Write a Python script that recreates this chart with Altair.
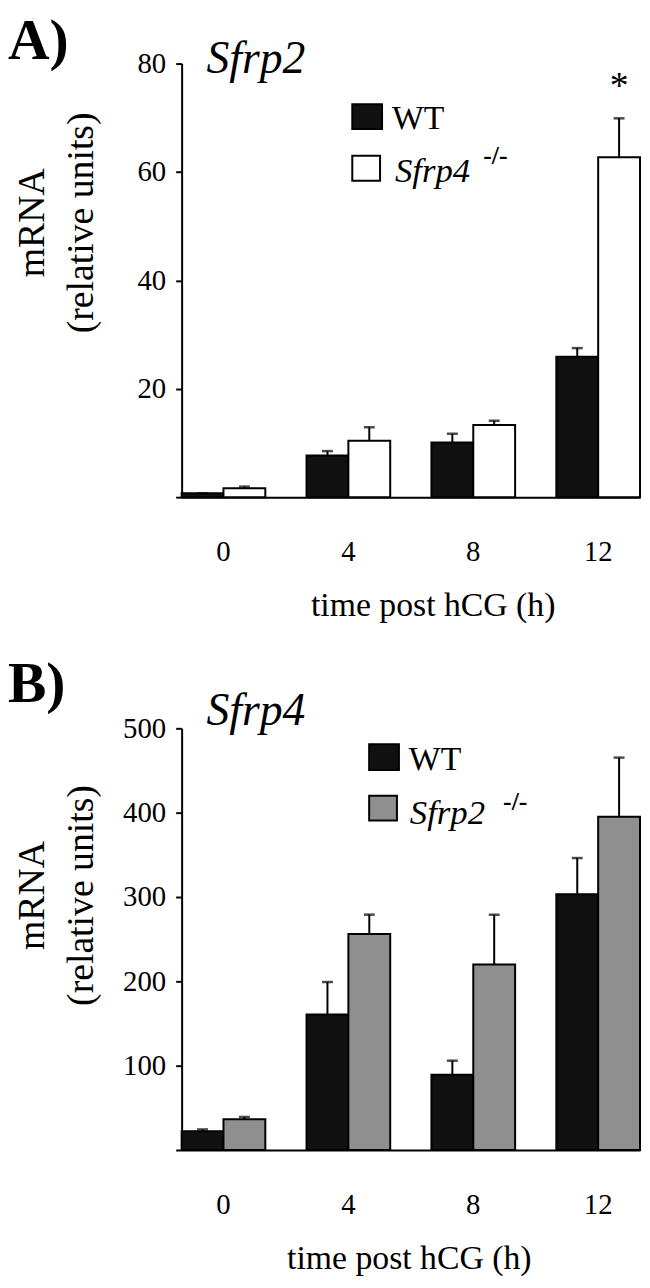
import altair as alt
import pandas as pd

# ---------------- data ----------------
times = ["0", "4", "8", "12"]

# Panel A: Sfrp2 mRNA
a_genotypes = ["WT", "Sfrp4 -/-"]
a_wt = [0.7, 7.7, 10.1, 25.9]
a_wt_err = [0.0, 0.8, 1.6, 1.6]
a_ko = [1.65, 10.4, 13.3, 62.7]
a_ko_err = [0.3, 2.5, 0.8, 7.2]
a_ko_sig = ["", "", "", "*"]
a_ticks = [0, 20, 40, 60, 80]

# Panel B: Sfrp4 mRNA
b_genotypes = ["WT", "Sfrp2 -/-"]
b_wt = [22.4, 160.8, 89.1, 303.2]
b_wt_err = [2.0, 38.4, 16.8, 43.0]
b_ko = [36.5, 256.1, 220.0, 395.3]
b_ko_err = [2.7, 23.0, 59.0, 70.0]
b_ko_sig = ["", "", "", ""]
b_ticks = [0, 100, 200, 300, 400, 500]

FONT = "Liberation Serif"


def table(genos, wt, wt_err, ko, ko_err, ko_sig):
    rows = []
    for i, t in enumerate(times):
        rows.append(dict(time=t, geno=genos[0], value=wt[i], hi=wt[i] + wt_err[i], sig=""))
        rows.append(dict(time=t, geno=genos[1], value=ko[i], hi=ko[i] + ko_err[i], sig=ko_sig[i]))
    return pd.DataFrame(rows)


def txt(s, x, y, size, style="normal", weight="normal"):
    return alt.Chart(pd.DataFrame({"t": [s]})).mark_text(
        font=FONT, fontSize=size, fontStyle=style, fontWeight=weight,
        align="left", baseline="alphabetic", color="black"
    ).encode(text="t:N", x=alt.value(x), y=alt.value(y))


def box(x1, x2, y1, y2, fill):
    return alt.Chart(pd.DataFrame({"k": [0]})).mark_rect(
        fill=fill, stroke="black", strokeWidth=2
    ).encode(x=alt.value(x1), x2=alt.value(x2), y=alt.value(y1), y2=alt.value(y2))


def panel(df, genos, fill, ymax, yticks, width, height, xtitle_x, ytitle_y, decor):
    x = alt.X("time:N", sort=times,
              scale=alt.Scale(paddingInner=0.33, paddingOuter=0),
              axis=alt.Axis(title="time post hCG (h)", labelAngle=0, ticks=False, tickSize=0,
                            labelPadding=41, labelFontSize=29,
                            titleX=xtitle_x, titleY=92, titleBaseline="top",
                            titleAlign="center", titleFontSize=34))
    xo = alt.XOffset("geno:N", sort=genos, scale=alt.Scale(paddingInner=0, paddingOuter=0))
    yscale = alt.Scale(domain=[0, ymax], nice=False, zero=True)
    yaxis = alt.Axis(values=yticks, labelExpr="datum.value == 0 ? '' : datum.label",
                     title=["mRNA", "(relative units)"], titleX=-131, titleY=ytitle_y,
                     titleAngle=270, titleBaseline="bottom", titleAlign="center",
                     titleFontSize=38, titleLineHeight=49,
                     tickSize=6, labelPadding=10, labelFontSize=29)
    bars = alt.Chart(df).mark_bar(stroke="black", strokeWidth=2).encode(
        x=x, xOffset=xo,
        y=alt.Y("value:Q", scale=yscale, axis=yaxis),
        color=alt.Color("geno:N", scale=alt.Scale(domain=genos, range=["#111111", fill]), legend=None),
    )
    stems = alt.Chart(df).mark_rule(color="black", strokeWidth=2).encode(
        x=x, xOffset=xo,
        y=alt.Y("value:Q", scale=yscale, axis=yaxis), y2="hi:Q")
    caps = alt.Chart(df).mark_tick(color="black", thickness=2.5, size=11, orient="horizontal").encode(
        x=x, xOffset=xo, y=alt.Y("hi:Q", scale=yscale, axis=yaxis))
    star = alt.Chart(df).transform_filter("datum.sig != ''").mark_text(
        font=FONT, fontSize=38, dy=-20, baseline="alphabetic", align="center", color="black"
    ).encode(x=x, xOffset=xo, y=alt.Y("hi:Q", scale=yscale, axis=yaxis), text="sig:N")
    return alt.layer(bars, stems, caps, star, *decor).properties(width=width, height=height)


df_a = table(a_genotypes, a_wt, a_wt_err, a_ko, a_ko_err, a_ko_sig)
df_b = table(b_genotypes, b_wt, b_wt_err, b_ko, b_ko_err, b_ko_sig)

decor_a = [
    txt("A)", -175, -5, 58, weight="bold"),
    txt("Sfrp2", 25, 9, 46, style="italic"),
    box(172, 202, 41, 66, "#111111"),
    box(172, 200, 93, 118, "white"),
    txt("WT", 212, 66, 34),
    txt("Sfrp4", 215, 119, 35, style="italic"),
    txt("-/-", 304, 101, 26, weight="bold"),
]
decor_b = [
    txt("B)", -175, -27, 58, weight="bold"),
    txt("Sfrp4", 25, -3, 46, style="italic"),
    box(189, 219, 16, 42, "#111111"),
    box(189, 217, 68, 93, "#8f8f8f"),
    txt("WT", 229, 42, 34),
    txt("Sfrp2", 230, 96, 35, style="italic"),
    txt("-/-", 324, 82, 26, weight="bold"),
]

chart_a = panel(df_a, a_genotypes, "white", 80, a_ticks, 462, 437, 253, 160, decor_a)
chart_b = panel(df_b, b_genotypes, "#8f8f8f", 500, b_ticks, 462, 425, 229, 168, decor_b)

chart = alt.vconcat(
    chart_a, chart_b, spacing=34, padding=0,
).resolve_scale(
    x="independent", y="independent", color="independent", xOffset="independent"
).configure_view(stroke=None).configure_axis(
    labelFont=FONT, labelColor="black", titleFont=FONT, titleColor="black",
    titleFontWeight="normal", domainColor="black", domainWidth=2,
    tickColor="black", tickWidth=2, grid=False
)

chart.save("out.html", embed_options={"renderer": "svg", "actions": False})
